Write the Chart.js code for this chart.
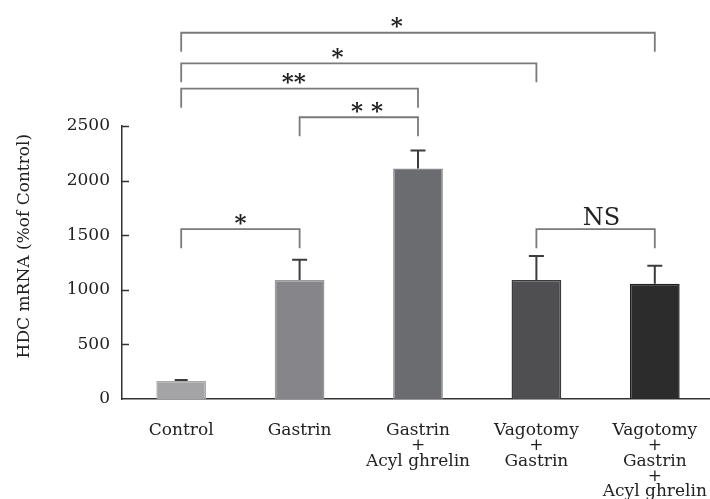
<!DOCTYPE html>
<html>
<head>
<meta charset="utf-8">
<script src="https://cdn.jsdelivr.net/npm/chart.js@4/dist/chart.umd.min.js"></script>
<style>
  html, body { margin: 0; padding: 0; background: #ffffff; overflow: hidden; }
  #wrap { position: relative; width: 740px; height: 499px; }
</style>
</head>
<body>
<div id="wrap"><canvas id="chart"></canvas></div>
<script>
// Groups along the x axis (multi-line labels)
const categories = [
  ['Control'],
  ['Gastrin'],
  ['Gastrin', '+', 'Acyl ghrelin'],
  ['Vagotomy', '+', 'Gastrin'],
  ['Vagotomy', '+', 'Gastrin', '+', 'Acyl ghrelin']
];
// HDC mRNA, % of control (mean and upper SE)
const means = [165, 1090, 2110, 1090, 1055];
const errors = [10, 185, 165, 220, 165];
const barColors = ['#a4a4a6', '#86868a', '#6b6c70', '#4f4f51', '#2c2c2c'];
const barBorders = ['#a9a9aa', '#9a9a9c', '#8a8a8c', '#3a3a3a', '#1e1e1e'];
const yTicks = [0, 500, 1000, 1500, 2000, 2500];

// Significance brackets: start group, end group, height (axis units), label, label position (group units)
const bracketFrom    = [0,    3,    1,     0,    0,    0];
const bracketTo      = [1,    4,    2,     2,    3,    4];
const bracketLevel   = [1555, 1555, 2580,  2842, 3074, 3354];
const bracketLabel   = ['*',  'NS', '* *', '**', '*',  '*'];
const bracketLabelAt = [0.5,  3.55, 1.57,  0.95, 1.32, 1.82];

const FONT = 'DejaVu Serif';
const TEXT = '#222222';

const errorBarPlugin = {
  id: 'errorBars',
  afterDatasetsDraw(chart) {
    const { ctx, scales: { x, y } } = chart;
    ctx.save();
    ctx.strokeStyle = '#3c3c3c';
    ctx.lineWidth = 2;
    means.forEach((m, i) => {
      const px = x.getPixelForValue(i);
      const y0 = y.getPixelForValue(m);
      const y1 = y.getPixelForValue(m + errors[i]);
      const half = i === 0 ? 6.5 : 7.5;
      ctx.beginPath();
      ctx.moveTo(px, y0);
      ctx.lineTo(px, y1);
      ctx.moveTo(px - half, y1);
      ctx.lineTo(px + half, y1);
      ctx.stroke();
    });
    ctx.restore();
  }
};

const innerTicksPlugin = {
  id: 'innerTicks',
  afterDraw(chart) {
    const { ctx, chartArea, scales: { y } } = chart;
    ctx.save();
    ctx.strokeStyle = '#333333';
    ctx.lineWidth = 1.5;
    yTicks.forEach(v => {
      if (v === 0) return;
      const py = Math.round(y.getPixelForValue(v)) + 0.5;
      ctx.beginPath();
      ctx.moveTo(chartArea.left, py);
      ctx.lineTo(chartArea.left + 7, py);
      ctx.stroke();
    });
    ctx.restore();
  }
};

const bracketPlugin = {
  id: 'brackets',
  afterDraw(chart) {
    const { ctx, scales: { x, y } } = chart;
    ctx.save();
    bracketFrom.forEach((f, i) => {
      const x0 = x.getPixelForValue(f);
      const x1 = x.getPixelForValue(bracketTo[i]);
      const py = y.getPixelForValue(bracketLevel[i]);
      ctx.strokeStyle = '#7a7a7a';
      ctx.lineWidth = 1.8;
      ctx.beginPath();
      ctx.moveTo(x0, py + 19);
      ctx.lineTo(x0, py);
      ctx.lineTo(x1, py);
      ctx.lineTo(x1, py + 19);
      ctx.stroke();

      const label = bracketLabel[i];
      const lx = x.getPixelForValue(bracketLabelAt[i]);
      ctx.fillStyle = TEXT;
      ctx.textAlign = 'center';
      ctx.textBaseline = 'alphabetic';
      if (label === 'NS') {
        ctx.font = '24px "' + FONT + '"';
        ctx.fillText(label, lx, py - 4);
      } else {
        ctx.font = 'bold 23px "' + FONT + '"';
        const m = ctx.measureText('*');
        const mid = (m.actualBoundingBoxAscent - m.actualBoundingBoxDescent) / 2;
        ctx.fillText(label, lx, py - 10 + mid);
      }
    });
    ctx.restore();
  }
};

const yTitlePlugin = {
  id: 'yTitle',
  afterDraw(chart) {
    const { ctx, scales: { y } } = chart;
    ctx.save();
    ctx.translate(y.left + 25, y.getPixelForValue(1400));
    ctx.rotate(-Math.PI / 2);
    ctx.font = '17px "' + FONT + '"';
    ctx.fillStyle = TEXT;
    ctx.textAlign = 'center';
    ctx.textBaseline = 'middle';
    ctx.fillText('HDC mRNA (%of Control)', 0, 0);
    ctx.restore();
  }
};

new Chart(document.getElementById('chart'), {
  type: 'bar',
  data: {
    labels: categories,
    datasets: [{
      data: means,
      backgroundColor: barColors,
      borderColor: barBorders,
      borderWidth: 1.5,
      categoryPercentage: 1,
      barPercentage: 0.42
    }]
  },
  options: {
    responsive: true,
    maintainAspectRatio: false,
    animation: false,
    events: [],
    layout: { padding: { top: 126, right: 26, bottom: 0, left: 0 } },
    plugins: { legend: { display: false }, tooltip: { enabled: false } },
    scales: {
      x: {
        grid: { display: false },
        border: { display: true, color: '#333333', width: 1.5 },
        ticks: {
          color: TEXT,
          padding: 16,
          maxRotation: 0,
          autoSkip: false,
          font: { family: FONT, size: 17, lineHeight: '15.3px' }
        },
        afterFit(scale) { scale.height = 100; }
      },
      y: {
        min: 0,
        max: 2500,
        grid: { display: false },
        border: { display: true, color: '#333333', width: 1.5 },
        afterBuildTicks(scale) { scale.ticks = yTicks.map(v => ({ value: v })); },
        ticks: {
          color: TEXT,
          padding: 4,
          font: { family: FONT, size: 17 },
          callback: v => String(v)
        },
        afterFit(scale) { scale.width = 122; }
      }
    }
  },
  plugins: [errorBarPlugin, innerTicksPlugin, bracketPlugin, yTitlePlugin]
});
</script>
</body>
</html>
